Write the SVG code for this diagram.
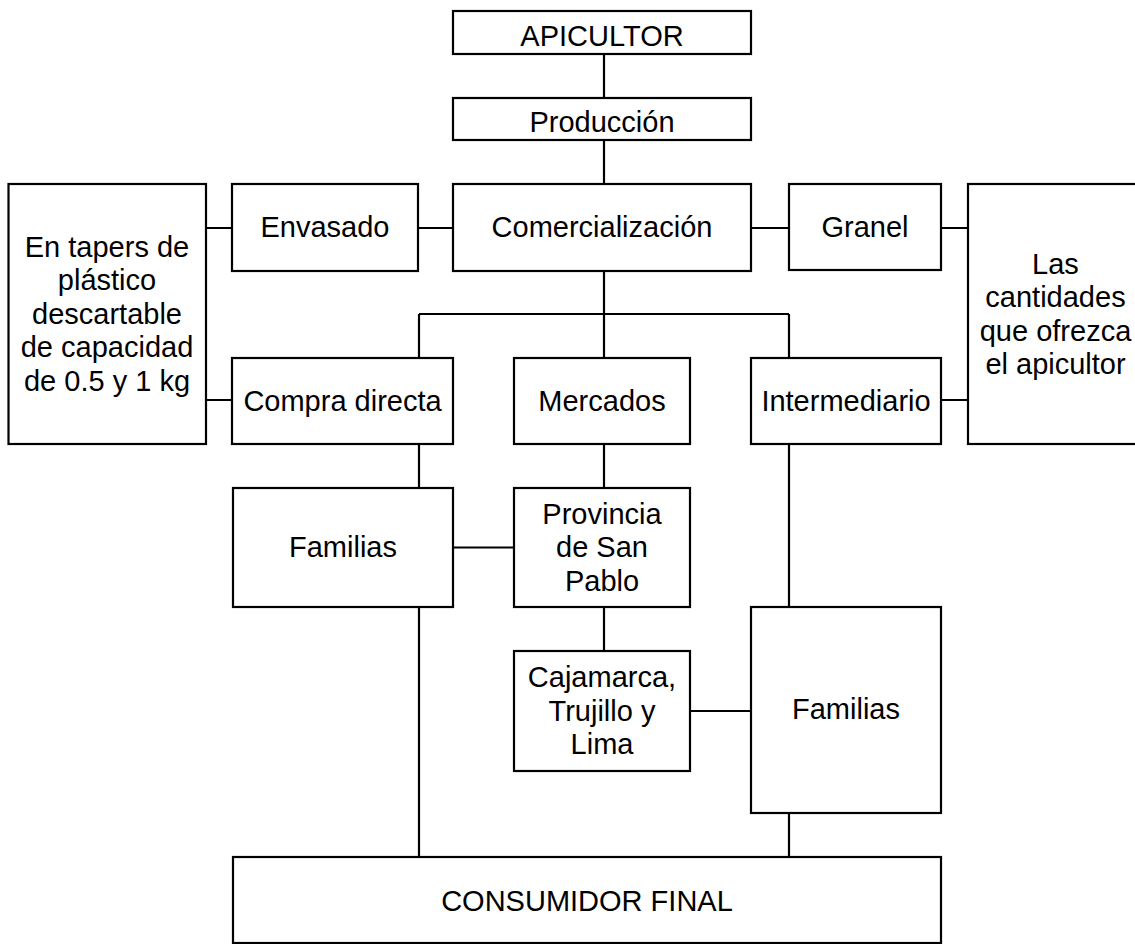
<svg xmlns="http://www.w3.org/2000/svg" width="1135" height="944" viewBox="0 0 1135 944">
<style>
.box{fill:#fff;stroke:#000;stroke-width:2.2}
.ln{fill:none;stroke:#000;stroke-width:2.2}
text{font-family:"Liberation Sans",Arial,sans-serif;font-size:29px;fill:#000;text-anchor:middle}
</style>
<rect width="1135" height="944" fill="#fff"/>
<g id="connectors" class="ln">
<path d="M604 54V98M604 140V184M418 228H453M206 228H232M751 228H789M941 228H968M604 271V314M419 314H789M419 314V358M604 314V358M789 314V358M206 400H232M941 400H968M419 444V488M604 444V488M453 547.5H514M604 607V651M690 711H751M789 444V607M419 607V857M789 813V857"/>
</g>
<g id="apicultor"><rect class="box" x="453" y="11" width="298" height="43"/><text x="602" y="46">APICULTOR</text></g>
<g id="produccion"><rect class="box" x="453" y="98" width="298" height="42"/><text x="602" y="132">Producción</text></g>
<g id="comercializacion"><rect class="box" x="453" y="184" width="298" height="87"/><text x="602" y="237">Comercialización</text></g>
<g id="envasado"><rect class="box" x="232" y="184" width="186" height="87"/><text x="325" y="237">Envasado</text></g>
<g id="granel"><rect class="box" x="789" y="184" width="152" height="86"/><text x="865" y="237">Granel</text></g>
<g id="tapers"><rect class="box" x="8.5" y="184" width="197.5" height="260"/><text x="107" y="257">En tapers de</text><text x="107" y="290">plástico</text><text x="107" y="323.5">descartable</text><text x="107" y="357">de capacidad</text><text x="107" y="390.5">de 0.5 y 1 kg</text></g>
<g id="cantidades"><rect class="box" x="968" y="184" width="176" height="260"/><text x="1055.5" y="273.5">Las</text><text x="1055.5" y="307">cantidades</text><text x="1055.5" y="340.5">que ofrezca</text><text x="1055.5" y="374">el apicultor</text></g>
<g id="compra"><rect class="box" x="232" y="358" width="221" height="86"/><text x="342.5" y="410.5">Compra directa</text></g>
<g id="mercados"><rect class="box" x="514" y="358" width="176" height="86"/><text x="602" y="410.5">Mercados</text></g>
<g id="intermediario"><rect class="box" x="751" y="358" width="190" height="86"/><text x="846" y="410.5">Intermediario</text></g>
<g id="familias1"><rect class="box" x="233" y="488" width="220" height="119"/><text x="343" y="557">Familias</text></g>
<g id="provincia"><rect class="box" x="514" y="488" width="176" height="119"/><text x="602" y="523.5">Provincia</text><text x="602" y="557">de San</text><text x="602" y="590.5">Pablo</text></g>
<g id="cajamarca"><rect class="box" x="514" y="651" width="176" height="120"/><text x="602" y="687">Cajamarca,</text><text x="602" y="720.5">Trujillo y</text><text x="602" y="754">Lima</text></g>
<g id="familias2"><rect class="box" x="751" y="607" width="190" height="206"/><text x="846" y="719">Familias</text></g>
<g id="consumidor"><rect class="box" x="233" y="857" width="708" height="86"/><text x="587" y="911">CONSUMIDOR FINAL</text></g>
</svg>
